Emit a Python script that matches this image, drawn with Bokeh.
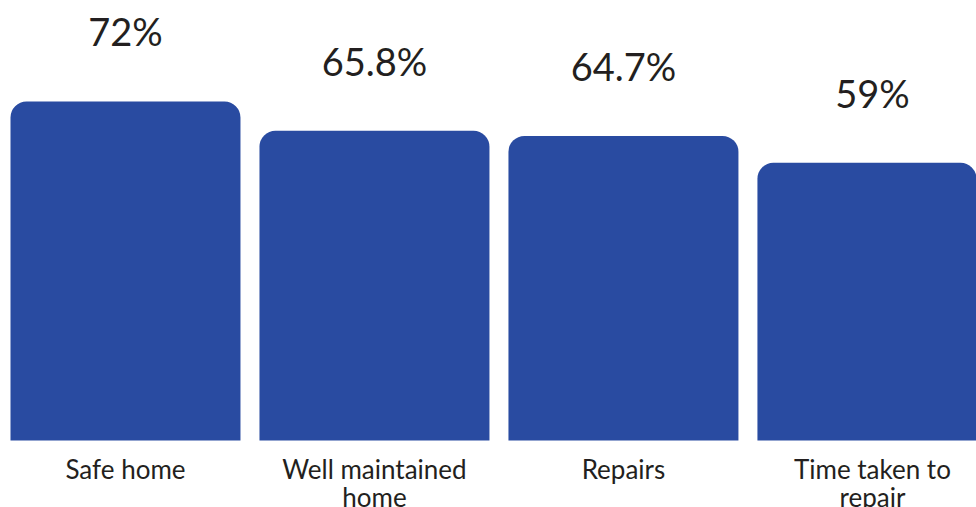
from bokeh.plotting import figure
from bokeh.models import ColumnDataSource, Range1d
from bokeh.core.properties import value
from bokeh.embed import file_html
from bokeh.resources import INLINE

categories = ["Safe home", "Well maintained\nhome", "Repairs", "Time taken to\nrepair"]
values = [72, 65.8, 64.7, 59]
value_labels = ["72%", "65.8%", "64.7%", "59%"]

xs = list(range(len(categories)))
src = ColumnDataSource(dict(
    x=xs,
    top=values,
    cat=categories,
    lab=value_labels,
    lab_y=[v + 14.9 for v in values],
    cat_y=[-2.6] * len(values),
))

p = figure(width=976, height=507, output_backend="svg", toolbar_location=None,
           x_range=Range1d(-0.502, 3.418), y_range=Range1d(-14.23, 93.46),
           min_border=0, min_border_left=0, min_border_right=0,
           min_border_top=0, min_border_bottom=0)
p.axis.visible = False
p.grid.visible = False
p.outline_line_color = None
p.background_fill_color = "white"
p.border_fill_color = "white"

p.vbar(x="x", top="top", bottom=0, width=0.9237, source=src,
       fill_color="#294ba1", line_color=None, border_radius=(16, 16, 0, 0))

p.text(x="x", y="lab_y", text="lab", source=src, text_align="center",
       text_baseline="alphabetic", text_font=value("Lato"),
       text_font_size="38px", text_color="#231f20")

p.text(x="x", y="cat_y", text="cat", source=src, text_align="center",
       text_baseline="top", text_font=value("Lato"),
       text_font_size="26px", text_color="#231f20", text_line_height=0.88)

open("out.html", "w").write(file_html(p, INLINE))
